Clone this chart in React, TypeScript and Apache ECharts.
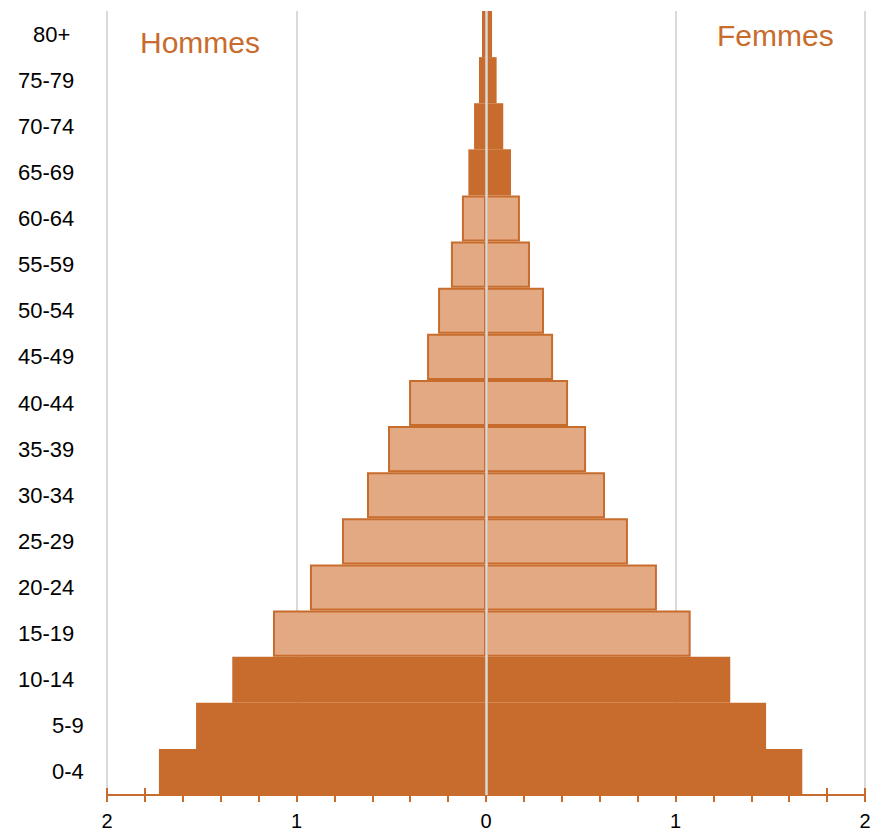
import React, { useEffect, useRef } from "react";
import * as echarts from "echarts";

const ageGroups = ["0-4", "5-9", "10-14", "15-19", "20-24", "25-29", "30-34", "35-39", "40-44", "45-49", "50-54", "55-59", "60-64", "65-69", "70-74", "75-79", "80+"];
const hommes = [1.726, 1.53, 1.339, 1.124, 0.929, 0.76, 0.628, 0.517, 0.406, 0.311, 0.253, 0.185, 0.127, 0.093, 0.063, 0.037, 0.021];
const femmes = [1.669, 1.478, 1.289, 1.08, 0.902, 0.749, 0.628, 0.528, 0.433, 0.354, 0.306, 0.232, 0.179, 0.132, 0.091, 0.056, 0.032];
const workingAges = ["15-19", "20-24", "25-29", "30-34", "35-39", "40-44", "45-49", "50-54", "55-59", "60-64"];
const seriesNames = ["Hommes", "Femmes"];

const DARK = "#C86C2D";
const LIGHT = "#E3A982";
const GRID = "#D9D9D9";
const FONT = "Liberation Sans";

export default function App() {
  const ref = useRef<HTMLDivElement>(null);
  useEffect(() => {
    document.body.style.margin = "0";
    if (!ref.current) return;
    const chart = echarts.init(ref.current, null, { renderer: "svg" });
    const styleFor = (age: string) =>
      workingAges.includes(age)
        ? { color: LIGHT, borderColor: DARK, borderWidth: 2 }
        : { color: DARK, borderColor: DARK, borderWidth: 0 };
    const labelStyle = (age: string) => {
      if (age.length <= 3) return age === "80+" ? "{p|" + age + "}" : "{q|" + age + "}";
      return "{n|" + age + "}";
    };
    chart.setOption({
      animation: false,
      grid: { left: 107, right: 20, top: 11, bottom: 38, containLabel: false },
      xAxis: [
        {
          type: "value",
          min: -2,
          max: 2,
          interval: 1,
          axisLine: { show: true, lineStyle: { color: DARK, width: 2 } },
          axisTick: { show: true, length: 7, lineStyle: { color: DARK, width: 2 } },
          minorTick: { show: true, splitNumber: 5, length: 7, lineStyle: { color: DARK, width: 2 } },
          splitLine: { show: true, lineStyle: { color: GRID, width: 2 } },
          axisLabel: {
            margin: 16,
            fontFamily: FONT,
            fontSize: 20,
            color: "#000",
            formatter: (v: number) => String(Math.abs(Math.round(v))),
          },
        },
        {
          type: "value",
          min: -2,
          max: 2,
          interval: 0.2,
          position: "bottom",
          axisLine: { show: false },
          axisTick: { show: true, inside: true, length: 7, lineStyle: { color: DARK, width: 2 } },
          splitLine: { show: false },
          axisLabel: { show: false },
        },
      ],
      yAxis: {
        type: "category",
        data: ageGroups,
        axisLine: { show: false },
        axisTick: { show: false },
        splitLine: { show: false },
        axisLabel: {
          align: "left",
          margin: 89,
          formatter: (v: string) => labelStyle(v),
          rich: {
            n: { fontFamily: FONT, fontSize: 22, color: "#000" },
            p: { fontFamily: FONT, fontSize: 22, color: "#000", padding: [0, 0, 0, 15] },
            q: { fontFamily: FONT, fontSize: 22, color: "#000", padding: [0, 0, 0, 34] },
          },
        },
      },
      series: [
        {
          name: seriesNames[0],
          type: "bar",
          stack: "pop",
          barCategoryGap: "0%",
          xAxisIndex: 0,
          data: hommes.map((v, i) => ({ value: -v, itemStyle: styleFor(ageGroups[i]) })),
          markLine: {
            silent: true,
            symbol: "none",
            label: { show: false },
            lineStyle: { color: GRID, width: 2.5, type: "solid" },
            data: [{ xAxis: 0 }],
            z: 10,
          },
        },
        {
          name: seriesNames[1],
          type: "bar",
          stack: "pop",
          barCategoryGap: "0%",
          xAxisIndex: 0,
          data: femmes.map((v, i) => ({ value: v, itemStyle: styleFor(ageGroups[i]) })),
        },
      ],
      graphic: [
        {
          type: "text",
          left: 140,
          top: 27,
          style: { text: seriesNames[0], fontFamily: FONT, fontSize: 30, fill: DARK },
        },
        {
          type: "text",
          left: 717,
          top: 20,
          style: { text: seriesNames[1], fontFamily: FONT, fontSize: 30, fill: DARK },
        },
      ],
    });
    return () => chart.dispose();
  }, []);
  return <div ref={ref} style={{ width: 885, height: 833 }} />;
}
